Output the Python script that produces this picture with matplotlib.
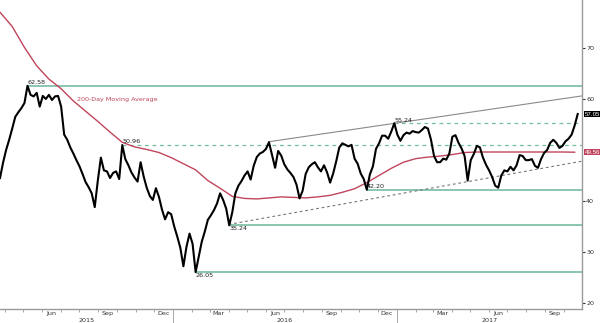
import numpy as np
import pandas as pd
import matplotlib
matplotlib.use('Agg')
import matplotlib.pyplot as plt
import matplotlib.dates as mdates
import matplotlib.transforms as mtransforms

# Price closes, one every 5 calendar days from 24 Mar 2015
close = [44.5, 47.5, 50.0, 52.0, 54.2, 56.5, 57.4, 58.2, 59.2, 62.58,
         60.8, 60.5, 61.2, 58.5, 60.6, 60.0, 60.8, 59.8, 60.5, 60.6,
         58.5, 53.0, 52.0, 50.5, 49.3, 48.0, 46.8, 45.3, 43.7, 42.7,
         41.5, 38.8, 44.0, 48.5, 46.0, 45.8, 44.5, 45.5, 45.8, 44.3,
         50.96, 48.2, 47.0, 45.6, 44.6, 43.8, 47.6, 44.8, 42.6, 41.0,
         40.2, 42.5, 40.8, 38.3, 36.4, 37.8, 37.4, 35.0, 33.0, 30.8,
         27.2, 31.0, 33.6, 31.6, 26.05, 29.0, 32.0, 34.0, 36.3, 37.2,
         38.2, 39.5, 41.5, 40.2, 38.5, 35.24, 37.8, 41.5, 43.0, 43.9,
         45.0, 45.8, 44.2, 46.9, 48.6, 49.3, 49.6, 50.2, 51.5, 49.0,
         46.5, 49.8, 48.9, 47.2, 46.2, 45.5, 44.7, 43.2, 40.5, 42.0,
         45.3, 46.6, 47.2, 47.6, 46.6, 45.8, 47.0, 45.6, 43.6, 45.4,
         47.8, 50.5, 51.3, 51.0, 50.7, 51.0, 48.3, 47.3, 45.4, 44.3,
         42.20, 45.2, 46.8, 50.2, 51.3, 52.8, 52.8, 52.2, 53.6, 55.24,
         53.0, 51.8, 52.9, 53.4, 53.2, 53.7, 53.5, 53.4, 53.9, 54.5,
         54.2, 52.0, 48.8, 47.6, 47.6, 48.3, 48.1, 49.3, 52.6, 52.9,
         51.4, 50.3, 48.8, 44.0, 48.0, 49.2, 50.8, 50.5, 48.5, 47.1,
         46.0, 44.7, 43.0, 42.6, 45.0, 46.0, 45.8, 46.7, 46.0, 47.0,
         49.0, 48.8, 48.0, 48.0, 48.2, 46.9, 46.5, 48.2, 49.4, 50.0,
         51.4, 52.0, 51.4, 50.4, 50.8, 51.7, 52.2, 53.0, 54.8, 57.05]
dates = pd.date_range('2015-03-24', periods=len(close), freq='5D')

# 200-day moving average, one value every 20 days
ma200 = [77.0, 74.2, 70.1, 66.5, 63.9, 62.0, 59.6, 57.6, 55.6, 53.5,
         51.5, 50.6, 50.1, 49.5, 48.5, 47.3, 46.1, 44.0, 42.5, 40.9,
         40.5, 40.4, 40.6, 40.8, 40.7, 40.6, 40.8, 41.1, 41.7, 42.4,
         43.6, 45.0, 46.4, 47.6, 48.3, 48.6, 48.8, 49.1, 49.5, 49.6,
         49.6, 49.6, 49.6, 49.6, 49.6, 49.6, 49.6, 49.56]
ma_dates = pd.date_range('2015-03-24', periods=len(ma200), freq='20D')

# support / resistance levels: (index of the turning point, solid?, label above?)
levels = [(9, True, True), (40, False, True), (64, True, False),
          (75, True, False), (120, True, True), (129, False, True)]

# trend lines (start date, start value, end date, end value)
resist = ('2016-06-05', 51.6, '2017-10-31', 60.6)
support = ('2016-04-01', 35.4, '2017-10-31', 47.8)

# right axis labels (50 sits under the moving-average tag)
yticks = [20, 30, 40, 60, 70]

x0 = pd.Timestamp('2015-03-24')
x1 = pd.Timestamp('2017-10-31')

teal = '#74bea0'
crimson = '#c0455c'

fig = plt.figure(figsize=(6, 3.23), dpi=100)
ax = fig.add_axes([0, 14 / 323, 582 / 600, 309 / 323])

for idx, solid, above in levels:
    d, v = dates[idx], close[idx]
    ax.plot([d, x1], [v, v], color=teal, lw=1.2 if solid else 0.9,
            ls='-' if solid else (0, (3, 3)), zorder=1)
    if above:
        ax.annotate('%.2f' % v, (d, v), xytext=(0, 0.5), textcoords='offset points',
                    ha='left', va='bottom', fontsize=4.6, color='#222222')
    else:
        ax.annotate('%.2f' % v, (d, v), xytext=(0, -0.8), textcoords='offset points',
                    ha='left', va='top', fontsize=4.6, color='#222222')

ax.plot(pd.to_datetime([resist[0], resist[2]]), [resist[1], resist[3]],
        color='#8a8a8a', lw=0.8, zorder=1)
ax.plot(pd.to_datetime([support[0], support[2]]), [support[1], support[3]],
        color='#777777', lw=0.8, ls=(0, (2.5, 2.5)), zorder=1)

ax.plot(ma_dates, ma200, color=crimson, lw=1.0, zorder=2)
ax.plot(dates, close, color='black', lw=1.5, zorder=3)

ax.text(pd.Timestamp('2015-07-28'), 59.8, '200-Day Moving Average',
        fontsize=4.6, color=crimson, ha='left', va='center')

ax.set_xlim(x0, x1)
ax.set_ylim(18.82, 79.4)

# axis styling
for s in ['top', 'left']:
    ax.spines[s].set_visible(False)
for s in ['bottom', 'right']:
    ax.spines[s].set_color('#9a9a9a')
    ax.spines[s].set_linewidth(1.0)

ax.yaxis.tick_right()
ax.set_yticks(yticks)
ax.set_yticklabels([str(t) for t in yticks])
ax.tick_params(axis='y', direction='out', length=2, width=0.8, pad=1,
               labelsize=4.6, colors='#333333')

# month ticks, quarter labels mid-month, year separators longer
ax.xaxis.set_minor_locator(mdates.MonthLocator())
ax.xaxis.set_major_locator(mdates.YearLocator())
ax.xaxis.set_major_formatter(plt.NullFormatter())
ax.tick_params(axis='x', which='minor', direction='out', length=2, width=0.6,
               color='#9a9a9a')
ax.tick_params(axis='x', which='major', direction='out', length=14, width=0.6,
               color='#9a9a9a')

trans = mtransforms.blended_transform_factory(ax.transData, ax.transAxes)
for m in pd.date_range('2015-06-01', '2017-09-30', freq='QS-MAR'):
    ax.text(m + pd.Timedelta(days=15), -0.014, m.strftime('%b'), transform=trans,
            ha='center', va='center', fontsize=4.6, color='#333333')
year_mid = {'2015': x0 + (pd.Timestamp('2016-01-01') - x0) / 2,
            '2016': pd.Timestamp('2016-07-01'),
            '2017': pd.Timestamp('2017-01-01') + (x1 - pd.Timestamp('2017-01-01')) / 2}
for y, d in year_mid.items():
    ax.text(d, -0.036, y, transform=trans, ha='center', va='center',
            fontsize=4.6, color='#333333')

# last value tags on the right axis
tag = mtransforms.blended_transform_factory(ax.transAxes, ax.transData)
ax.text(1.005, close[-1], '%.2f' % close[-1], transform=tag, fontsize=4.4,
        family='Liberation Sans', color='white', ha='left', va='center',
        bbox=dict(boxstyle='square,pad=0.12', fc='black', ec='none'))
ax.text(1.005, ma200[-1], '%.2f' % ma200[-1], transform=tag, fontsize=4.4,
        family='Liberation Sans', color='white', ha='left', va='center',
        bbox=dict(boxstyle='square,pad=0.12', fc=crimson, ec='none'))

fig.savefig('out.png', dpi=100)
